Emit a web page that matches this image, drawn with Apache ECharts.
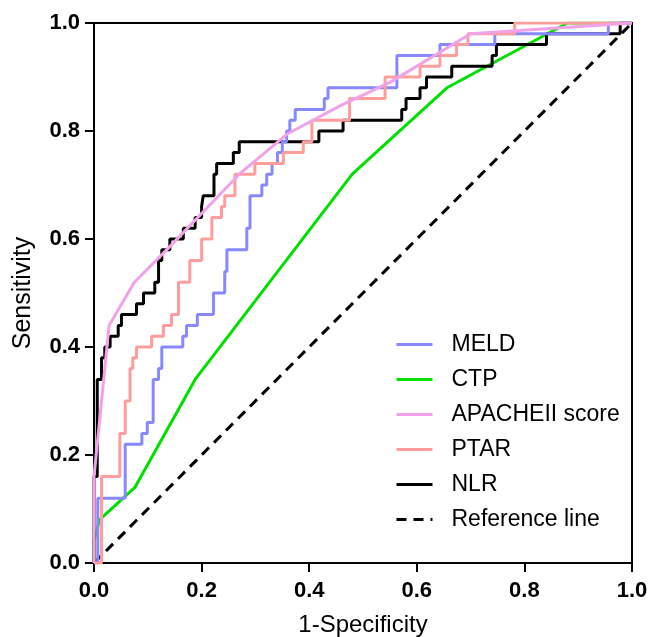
<!DOCTYPE html>
<html>
<head>
<meta charset="utf-8">
<script src="https://cdn.jsdelivr.net/npm/echarts@6/dist/echarts.min.js"></script>
<style>
  html, body { margin: 0; padding: 0; background: #fff; }
  #chart { width: 651px; height: 637px; }
</style>
</head>
<body>
<div id="chart"></div>
<script>
// ROC curves: each entry is [1 - specificity, sensitivity].
// Step curves list the corner reached after each rise.
const meld = [
  [0, 0], [0.007, 0.12], [0.058, 0.22], [0.089, 0.24], [0.099, 0.26], [0.11, 0.34],
  [0.12, 0.36], [0.126, 0.40], [0.165, 0.42], [0.172, 0.44], [0.192, 0.46], [0.222, 0.50],
  [0.243, 0.54], [0.247, 0.58], [0.284, 0.62], [0.29, 0.68], [0.312, 0.70], [0.321, 0.72],
  [0.331, 0.74], [0.341, 0.76], [0.35, 0.78], [0.358, 0.80], [0.364, 0.82], [0.374, 0.84],
  [0.428, 0.86], [0.435, 0.88], [0.563, 0.94], [0.643, 0.96], [0.745, 0.98], [0.956, 1.0],
  [1, 1]
];
const ctp = [
  [0, 0], [0, 0.04], [0.01, 0.08], [0.076, 0.14], [0.188, 0.34], [0.48, 0.72],
  [0.656, 0.88], [0.88, 1.0], [1, 1]
];
const apache = [
  [0, 0], [0, 0.16], [0.028, 0.44], [0.075, 0.52], [0.14, 0.585], [0.27, 0.72],
  [0.36, 0.795], [0.46, 0.848], [0.55, 0.89], [0.70, 0.98], [1, 1]
];
const ptar = [
  [0, 0], [0.014, 0.16], [0.048, 0.24], [0.058, 0.30], [0.067, 0.36], [0.072, 0.38],
  [0.079, 0.40], [0.107, 0.42], [0.129, 0.44], [0.144, 0.46], [0.157, 0.52], [0.178, 0.56],
  [0.20, 0.60], [0.219, 0.64], [0.237, 0.66], [0.243, 0.68], [0.262, 0.72], [0.299, 0.74],
  [0.352, 0.76], [0.389, 0.78], [0.405, 0.82], [0.475, 0.86], [0.541, 0.90], [0.606, 0.92],
  [0.643, 0.94], [0.674, 0.96], [0.695, 0.98], [0.782, 1.0], [1, 1]
];
const nlr = [
  [0, 0], [0, 0.16], [0.006, 0.34], [0.014, 0.38], [0.02, 0.40], [0.03, 0.42], [0.045, 0.44],
  [0.051, 0.46], [0.079, 0.48], [0.092, 0.50], [0.113, 0.52], [0.12, 0.56], [0.126, 0.58],
  [0.141, 0.60], [0.166, 0.62], [0.188, 0.64], [0.20, 0.66], [0.203, 0.68], [0.223, 0.72],
  [0.228, 0.74], [0.259, 0.76], [0.27, 0.78], [0.418, 0.80], [0.463, 0.82], [0.572, 0.84],
  [0.58, 0.86], [0.606, 0.88], [0.618, 0.90], [0.665, 0.92], [0.74, 0.94], [0.748, 0.96],
  [0.841, 0.98], [0.978, 1.0], [1, 1]
];
const referenceLine = [[0, 0], [1, 1]];

const tickLabels = ['0.0', '0.2', '0.4', '0.6', '0.8', '1.0'];
const legendNames = ['MELD', 'CTP', 'APACHEII score', 'PTAR', 'NLR', 'Reference line'];

const FONT = 'Liberation Sans, Arial, sans-serif';
const tickFormatter = v => tickLabels[Math.round(v / 0.2)] ?? v.toFixed(1);

function axisCommon(name, labelMargin, nameGap, nameSize) {
  return {
    type: 'value', min: 0, max: 1, interval: 0.2,
    name: name, nameLocation: 'middle', nameGap: nameGap,
    nameTextStyle: { fontFamily: FONT, fontSize: nameSize, color: '#000' },
    axisLine: { show: true, onZero: false, lineStyle: { color: '#000', width: 2 } },
    axisTick: { show: true, inside: false, length: 9, lineStyle: { color: '#000', width: 2 } },
    axisLabel: {
      fontFamily: FONT, fontSize: 22, fontWeight: 'bold', color: '#000',
      margin: labelMargin, formatter: tickFormatter
    },
    splitLine: { show: false }
  };
}

function curve(name, data, color, opts) {
  return Object.assign({
    name: name, type: 'line', data: data,
    showSymbol: false, symbol: 'none', silent: true,
    lineStyle: { color: color, width: 3 },
    itemStyle: { color: color }
  }, opts || {});
}

const chart = echarts.init(document.getElementById('chart'), null, { renderer: 'canvas' });
chart.setOption({
  animation: false,
  backgroundColor: '#fff',
  grid: {
    left: 94, top: 23, width: 538, height: 540,
    outerBoundsMode: 'none', containLabel: false,
    show: true, borderColor: '#000', borderWidth: 2, backgroundColor: 'transparent'
  },
  xAxis: axisCommon('1-Specificity', 17, 50, 24),
  yAxis: axisCommon('Sensitivity', 14, 58, 25),
  legend: {
    data: legendNames,
    orient: 'vertical', left: 390, top: 328,
    itemWidth: 36, itemHeight: 14, itemGap: 12,
    selectedMode: false,
    itemStyle: { opacity: 0 },
    lineStyle: { width: 3 },
    textStyle: { fontFamily: FONT, fontSize: 23, color: '#000', padding: [0, 0, 0, 14] }
  },
  series: [
    curve('Reference line', referenceLine, '#000', { lineStyle: { color: '#000', width: 3, type: [10, 7] } }),
    curve('CTP', ctp, '#00e000'),
    curve('NLR', nlr, '#000', { step: 'end' }),
    curve('MELD', meld, '#8888ff', { step: 'end' }),
    curve('PTAR', ptar, '#ff9d9d', { step: 'end' }),
    curve('APACHEII score', apache, '#f2a2e8')
  ]
});
</script>
</body>
</html>
